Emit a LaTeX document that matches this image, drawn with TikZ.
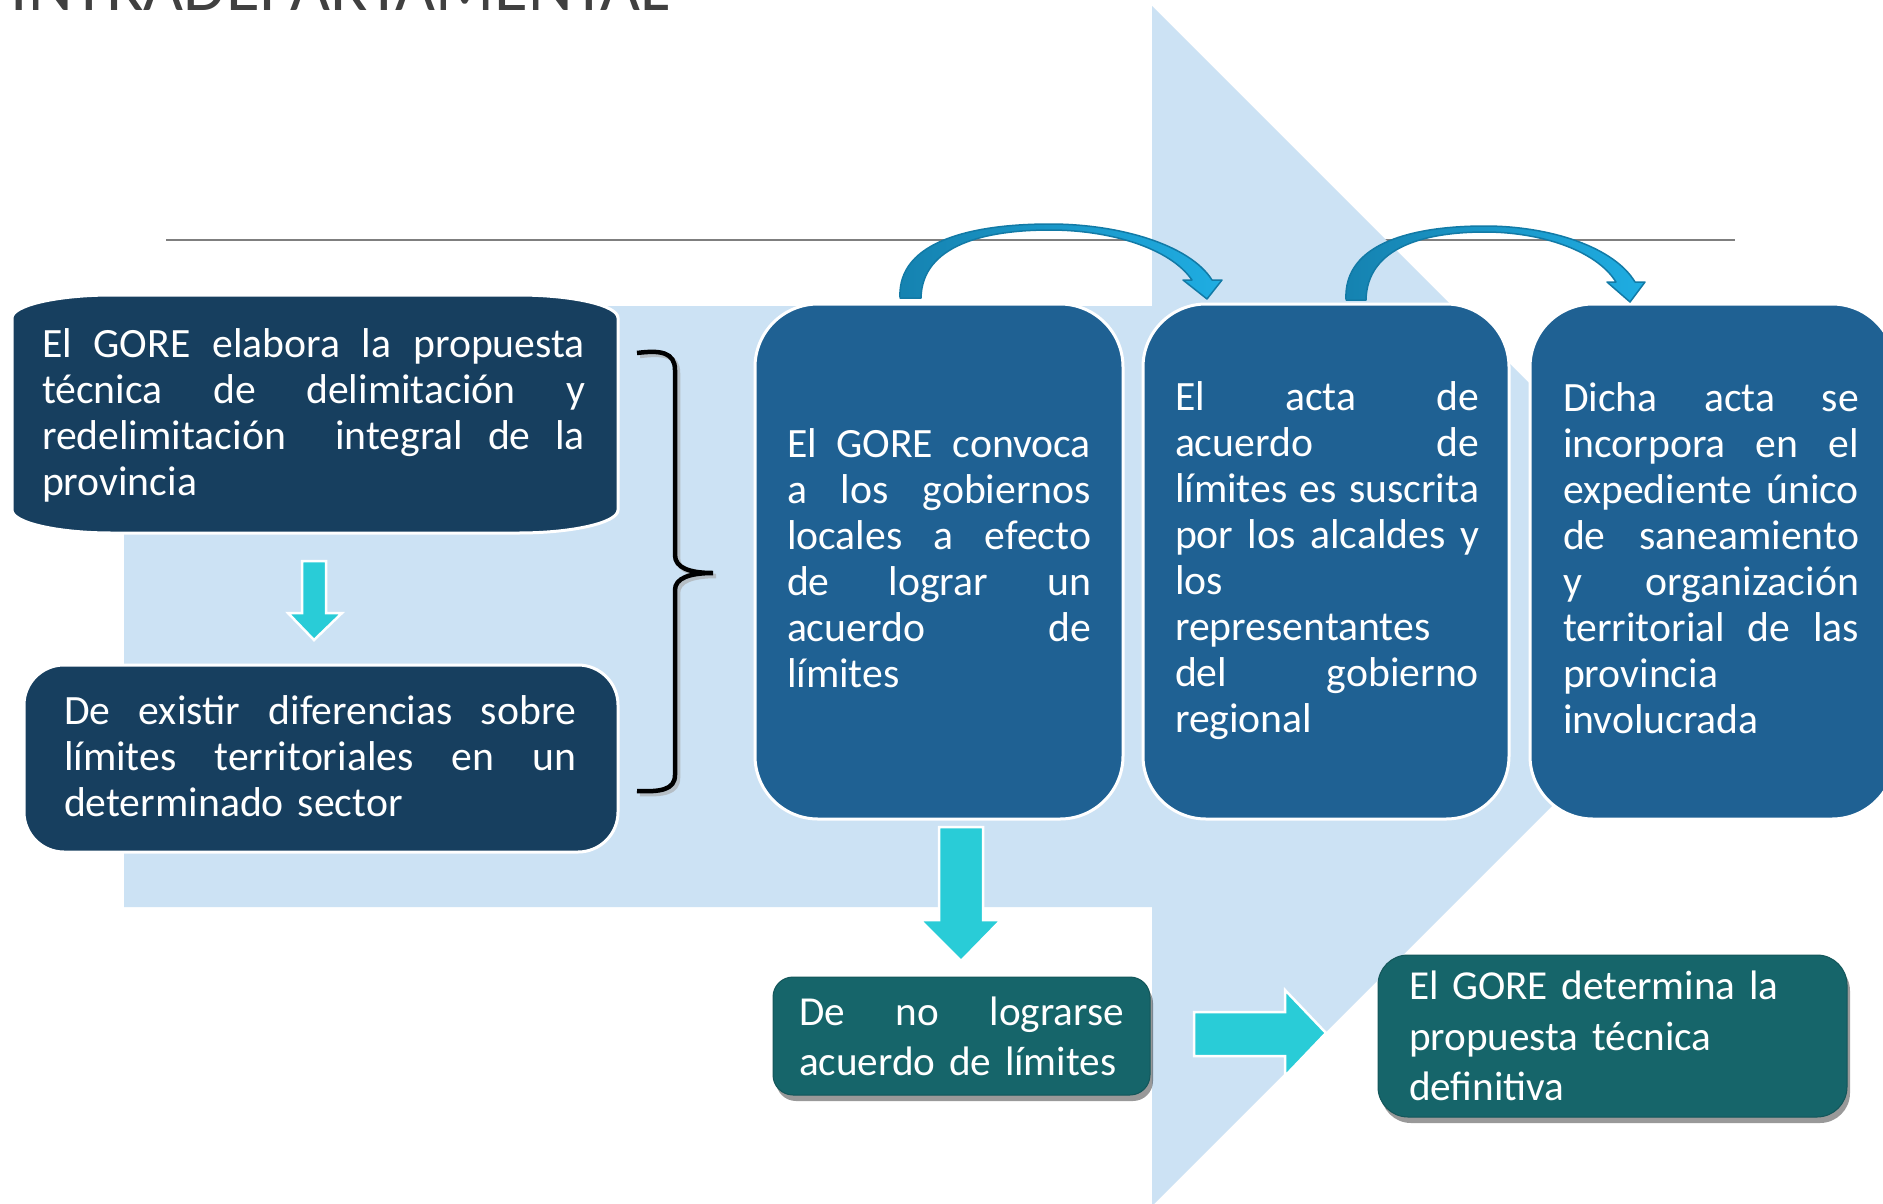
\documentclass[tikz,border=0pt]{standalone}
\usepackage{fontspec}
\setmainfont{Carlito}
\usetikzlibrary{shadows,calc}
\setlength\parindent{0pt}
\setlength\parskip{0pt}
\definecolor{navy}{HTML}{173F5F}
\definecolor{midblue}{HTML}{1F6193}
\definecolor{tealbox}{HTML}{16656A}
\definecolor{bgblue}{HTML}{CCE2F4}
\definecolor{cyanarr}{HTML}{29CCD7}
\definecolor{curvdark}{HTML}{1582B0}
\definecolor{curvlight}{HTML}{1FADE2}
\definecolor{curvedge}{HTML}{127AA6}
\definecolor{titlegray}{HTML}{404040}
\definecolor{rulegray}{HTML}{7F7F7F}
\newlength\jw
\newcommand\jl[1]{\leavevmode\hbox to \jw{\spaceskip=0.2em plus 1fil\relax #1}}
\begin{document}
\begin{tikzpicture}[x=1pt,y=-1pt,
  txt/.style={inner sep=0pt, outer sep=0pt, anchor=north west, align=left, text=white,
     font=\fontsize{41.7}{46}\selectfont, text width=#1, execute at begin node={\setlength{\jw}{#1}}},
  txtb/.style={txt=#1, font=\fontsize{41.2}{50.7}\selectfont},
  bluebox/.style={rectangle, rounded corners=63pt, fill=midblue, draw=white, line width=3pt, inner sep=0pt},
  navybox/.style={rectangle, rounded corners=40pt, fill=navy, draw=white, line width=3pt, inner sep=0pt},
  tealnode/.style={rectangle, fill=tealbox, draw=tealbox!85!black, line width=1pt, inner sep=0pt,
     drop shadow={shadow xshift=3pt, shadow yshift=-6pt, opacity=0.4, fill=black}},
  blockarrow/.style={fill=cyanarr, draw=white, line width=2.5pt, line join=miter},
  curvarrow/.style={left color=curvdark, right color=curvlight, draw=curvedge, line width=1.5pt, line join=round}
]
\useasboundingbox (0,0) rectangle (1883,1203);
\fill[white] (0,0) rectangle (1883,1203);

% title (mostly cut off at the top)
\node[anchor=base east, font=\fontsize{69}{80}\selectfont, text=titlegray, inner sep=0pt] (title) at (670,10) {INTRADEPARTAMENTAL};

% rule
\coordinate (ruleL) at (166,240);
\coordinate (ruleR) at (1735,240);
\draw[rulegray, line width=2pt] (ruleL) -- (ruleR);

% big background arrow
\fill[bgblue] (124,306) -- (1152,306) -- (1152,6) -- (1752,606) -- (1152,1206) -- (1152,907) -- (124,907) -- cycle;

% box 1 (elliptic corners)
\path[fill=navy, draw=white, line width=3pt]
  (12,318) .. controls (12,305.4) and (57,295) .. (112,295) -- (518,295)
  .. controls (573,295) and (618,305.4) .. (618,318) -- (618,510)
  .. controls (618,522.6) and (573,533) .. (518,533) -- (112,533)
  .. controls (57,533) and (12,522.6) .. (12,510) -- cycle;
\node[inner sep=0pt, minimum width=606pt, minimum height=238pt] (b1) at (315,414) {};
\node[txt=543pt] (t1) at (42,324.8) {\strut\jl{El GORE elabora la propuesta}\\
\jl{técnica de delimitación y}\\
\jl{redelimitación{} {} integral de la}\\
provincia};

% box 2
\node[navybox, minimum width=594pt, minimum height=187pt] (b2) at (321,758.5) {};
\node[txt=512pt] (t2) at (64,691.8) {\strut\jl{De existir diferencias sobre}\\
\jl{límites territoriales en un}\\
determinado sector};

% small down arrow
\path[blockarrow] (302,561) -- (326,561) -- (326,613) -- (342,613) -- (314,640) -- (288,613) -- (302,613) -- cycle;

% brace
\coordinate (brTop) at (637,353);
\coordinate (brTip) at (713,573);
\coordinate (brBot) at (637,791);
\draw[black!35, line width=4.5pt, opacity=0.6, shift={(3,3)}]
  (637,353) .. controls (660,350) and (675,352) .. (675,370) -- (675,555)
  .. controls (675,568) and (690,573) .. (713,573) .. controls (690,573) and (675,578) .. (675,590)
  -- (675,775) .. controls (675,790) and (660,792) .. (637,791);
\draw[black, line width=4.5pt]
  (brTop) .. controls (660,350) and (675,352) .. (675,370) -- (675,555)
  .. controls (675,568) and (690,573) .. (brTip) .. controls (690,573) and (675,578) .. (675,590)
  -- (675,775) .. controls (675,790) and (660,792) .. (brBot);

% three tall boxes
\node[bluebox, minimum width=368pt, minimum height=515pt] (b3) at (939,561.5) {};
\node[bluebox, minimum width=366pt, minimum height=515pt] (b4) at (1326,561.5) {};
\node[bluebox, minimum width=365pt, minimum height=515pt] (b5) at (1712.5,561.5) {};

\node[txt=304pt] (t3) at (787,424.8) {\strut\jl{El GORE convoca}\\
\jl{a los gobiernos}\\
\jl{locales a efecto}\\
\jl{de lograr un}\\
\jl{acuerdo de}\\
límites};

\node[txt=304pt] (t4) at (1175,377.8) {\strut\jl{El acta de}\\
\jl{acuerdo de}\\
\jl{límites es suscrita}\\
\jl{por los alcaldes y}\\
los\\
representantes\\
\jl{del gobierno}\\
regional};

\node[txt=296pt] (t5) at (1563,378.8) {\strut\jl{Dicha acta se}\\
\jl{incorpora en el}\\
\jl{expediente único}\\
\jl{de saneamiento}\\
\jl{y organización}\\
\jl{territorial de las}\\
provincia\\
involucrada};

% curved arrows
\shade[curvarrow]
  (900,298) .. controls (897,240) and (975,224) .. (1050,224)
  .. controls (1120,224) and (1190,245) .. (1212,280)
  -- (1222,280) -- (1207,299) -- (1183,280) -- (1192,280)
  .. controls (1170,248) and (1110,230) .. (1050,230)
  .. controls (985,230) and (922,245) .. (921,298) -- cycle;
\shade[curvarrow]
  (1346,300) .. controls (1343,242) and (1415,226) .. (1485,226)
  .. controls (1550,226) and (1614,247) .. (1635,282)
  -- (1645,282) -- (1630,302) -- (1607,282) -- (1616,282)
  .. controls (1596,250) and (1540,232) .. (1485,232)
  .. controls (1425,232) and (1367,247) .. (1366,300) -- cycle;

% lower boxes
\node[tealnode, rounded corners=20pt, minimum width=377pt, minimum height=118pt] (b6) at (961.5,1036) {};
\node[txtb=325pt] (t6) at (799,989.5) {\strut\jl{De no lograrse}\\
acuerdo de límites};

\node[tealnode, rounded corners=30pt, minimum width=469pt, minimum height=162pt] (b7) at (1612.5,1036) {};
\node[txtb=430pt] (t7) at (1409,964) {\strut El GORE determina la\\
propuesta técnica\\
definitiva};

% block arrows
\path[blockarrow] (939,827) -- (983,827) -- (983,920) -- (1001,920) -- (961,961) -- (920,920) -- (939,920) -- cycle;
\path[blockarrow] (1194,1012) -- (1285,1012) -- (1285,990) -- (1326,1033) -- (1285,1076) -- (1285,1056) -- (1194,1056) -- cycle;

\end{tikzpicture}
\end{document}
